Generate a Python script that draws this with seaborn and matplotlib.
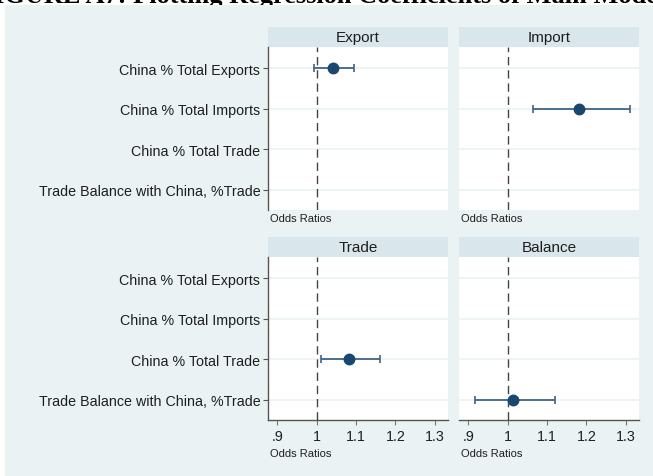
import matplotlib
matplotlib.use("Agg")
import matplotlib.pyplot as plt
from matplotlib.patches import Rectangle
import seaborn as sns
import pandas as pd

# ---- data ----
models = ["Export", "Import", "Trade", "Balance"]
variables = ["China % Total Exports", "China % Total Imports",
             "China % Total Trade", "Trade Balance with China, %Trade"]
model_var = ["China % Total Exports", "China % Total Imports",
             "China % Total Trade", "Trade Balance with China, %Trade"]
odds = [1.042, 1.182, 1.083, 1.013]
ci_low = [0.993, 1.064, 1.010, 0.917]
ci_high = [1.094, 1.312, 1.162, 1.119]
xticks = [0.9, 1.0, 1.1, 1.2, 1.3]
xtick_labels = [".9", "1", "1.1", "1.2", "1.3"]
title = "FIGURE A7: Plotting Regression Coefficients of Main Models"

df = pd.DataFrame({"model": models, "var": model_var, "odds": odds,
                   "lo": ci_low, "hi": ci_high})

sns.set_theme(style="white")
plt.rcParams["font.family"] = ["Liberation Sans", "DejaVu Sans"]

W, H = 653, 477
fig = plt.figure(figsize=(W / 100, H / 100), dpi=100)
fig.patch.set_facecolor("white")

BG = "#EAF2F3"
STRIP = "#D9E6EB"
NAVY = "#1A476F"
CI = "#3E6488"
SPINE = "#555555"
TXT = "#1E1E1E"

# background panel
fig.patches.append(Rectangle((5 / W, 0), 1 - 5 / W, 1 - 6 / H,
                             transform=fig.transFigure, facecolor=BG,
                             edgecolor="none", zorder=-10))
# title, clipped at the very top as in the reference
fig.text(0.5, 1 - 3 / H, title, ha="center", va="baseline",
         family=["Liberation Serif", "DejaVu Serif"], fontsize=19,
         fontweight="bold", color="black", zorder=-20)

lefts = [268, 459]
tops = [48, 258]
aw, ah = 180, 163
strip_h = 20
PT = 100 / 72  # px per point

axes = []
for i, m in enumerate(models):
    r, c = divmod(i, 2)
    x0 = lefts[c]
    y0 = tops[r]
    ax = fig.add_axes([x0 / W, 1 - (y0 + ah) / H, aw / W, ah / H])
    ax.set_facecolor("white")
    sub = df[df["model"] == m]
    sns.pointplot(data=sub, x="odds", y="var", order=variables,
                  color=NAVY, linestyle="none", errorbar=None,
                  markers="o", markersize=6.5, ax=ax, zorder=5)
    pos = [variables.index(v) for v in sub["var"]]
    ax.errorbar(sub["odds"], pos,
                xerr=[sub["odds"] - sub["lo"], sub["hi"] - sub["odds"]],
                fmt="none", ecolor=CI, elinewidth=1.3, capsize=3,
                capthick=1.2, zorder=4)
    ax.axvline(1.0, color="#444444", lw=1.0, ls=(0, (6, 3.5)), zorder=3)
    for k in range(len(variables)):
        ax.axhline(k, color=BG, lw=1.2, zorder=1)
    ax.set_xlim(0.876, 1.334)
    ax.set_ylim(3.5, -0.52)
    ax.set_xticks(xticks)
    ax.set_xlabel("")
    ax.set_ylabel("")
    for s in ax.spines.values():
        s.set_visible(False)
    # y axis
    ax.set_yticks(range(len(variables)))
    if c == 0:
        ax.spines["left"].set_visible(True)
        ax.spines["left"].set_color(SPINE)
        ax.spines["left"].set_linewidth(1.0)
        ax.set_yticklabels(variables, fontsize=10.3, color=TXT)
        ax.tick_params(axis="y", left=True, length=3.5, width=0.8,
                       color=SPINE, pad=2)
    else:
        ax.tick_params(axis="y", left=False, labelleft=False)
    # x axis
    if r == 1:
        ax.spines["bottom"].set_visible(True)
        ax.spines["bottom"].set_color(SPINE)
        ax.spines["bottom"].set_linewidth(1.0)
        ax.set_xticklabels(xtick_labels, fontsize=10.3, color=TXT)
        ax.tick_params(axis="x", bottom=True, length=3.5, width=0.8,
                       color="#777777", pad=3)
        lab_off = -33 / PT
    else:
        ax.tick_params(axis="x", bottom=False, labelbottom=False)
        lab_off = -8 / PT
    ax.annotate("Odds Ratios", xy=(0, 0), xycoords="axes fraction",
                xytext=(1.5, lab_off), textcoords="offset points",
                ha="left", va="center", fontsize=8, color=TXT)
    # strip header
    ax.add_patch(Rectangle((0, 1), 1, strip_h / ah, transform=ax.transAxes,
                           facecolor=STRIP, edgecolor="none", clip_on=False))
    ax.text(0.5, 1 + (strip_h / 2) / ah, m, transform=ax.transAxes,
            ha="center", va="center", fontsize=11, color=TXT)
    axes.append(ax)

fig.savefig("out.png", dpi=100, facecolor=fig.get_facecolor())
